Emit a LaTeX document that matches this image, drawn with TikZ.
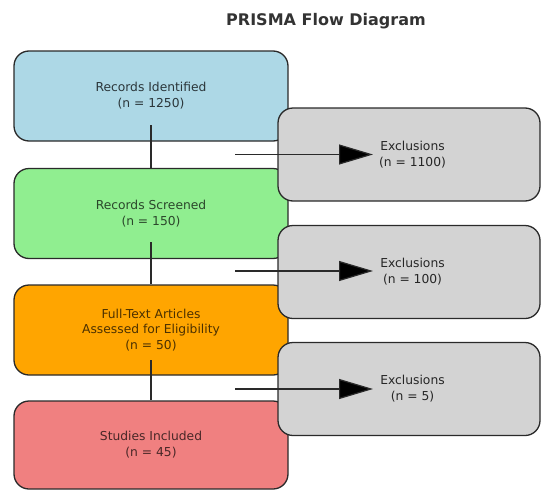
\documentclass[tikz,border=0pt]{standalone}
\usepackage{fontspec}
\setmainfont{DejaVu Sans}
\usetikzlibrary{arrows.meta}
\definecolor{cblue}{HTML}{ADD8E6}
\definecolor{cgreen}{HTML}{90EE90}
\definecolor{corange}{HTML}{FFA500}
\definecolor{cred}{HTML}{F08080}
\definecolor{cgray}{HTML}{D3D3D3}
\definecolor{cedge}{HTML}{2A2A2A}
\tikzset{
  flowbox/.style={draw=cedge, line width=1.3pt, rounded corners=15pt, minimum width=274pt, minimum height=90pt, inner sep=0pt, align=center, font=\fontsize{12.3}{15.8}\selectfont},
  exbox/.style={flowbox, fill=cgray, minimum width=262pt, minimum height=93pt, text=black!85},
  vline/.style={draw=cedge, line width=1.2pt},
  exarrow/.style={draw=cedge, line width=1.2pt, -{Triangle[length=34pt, width=20pt, fill=black]}},
  titletext/.style={font=\fontsize{16}{19}\selectfont\bfseries, text=black!80}
}
\begin{document}
\begin{tikzpicture}[x=1pt, y=-1pt]
\useasboundingbox (0,0) rectangle (541,490);
\node[titletext] (title) at (326,21) {PRISMA Flow Diagram};
\node[flowbox, fill=cblue, text=cblue!25!black] (b1) at (151,96) {Records Identified\\(n = 1250)};
\node[flowbox, fill=cgreen, text=cgreen!30!black] (b2) at (151,213.5) {Records Screened\\(n = 150)};
\node[flowbox, fill=corange, text=corange!30!black] (b3) at (151,330) {Full-Text Articles\\Assessed for Eligibility\\(n = 50)};
\node[flowbox, fill=cred, text=cred!30!black, minimum height=88pt] (b4) at (151,445) {Studies Included\\(n = 45)};
\coordinate (s1) at (151,125);
\coordinate (s2) at (151,242);
\coordinate (s3) at (151,360);
\draw[vline] (s1) -- (b2.north);
\draw[vline] (s2) -- (b3.north);
\draw[vline] (s3) -- (b4.north);
\node[exbox] (e1) at (409,154.5) {\hspace*{7pt}Exclusions\\\hspace*{7pt}(n = 1100)};
\node[exbox] (e2) at (409,272) {\hspace*{7pt}Exclusions\\\hspace*{7pt}(n = 100)};
\node[exbox] (e3) at (409,389) {\hspace*{7pt}Exclusions\\\hspace*{7pt}(n = 5)};
\coordinate (a1) at (235,154.5);
\coordinate (t1) at (373,154.5);
\coordinate (a2) at (235,271);
\coordinate (t2) at (373,271);
\coordinate (a3) at (235,389);
\coordinate (t3) at (373,389);
\draw[exarrow] (a1) -- (t1);
\draw[exarrow] (a2) -- (t2);
\draw[exarrow] (a3) -- (t3);
\end{tikzpicture}
\end{document}
